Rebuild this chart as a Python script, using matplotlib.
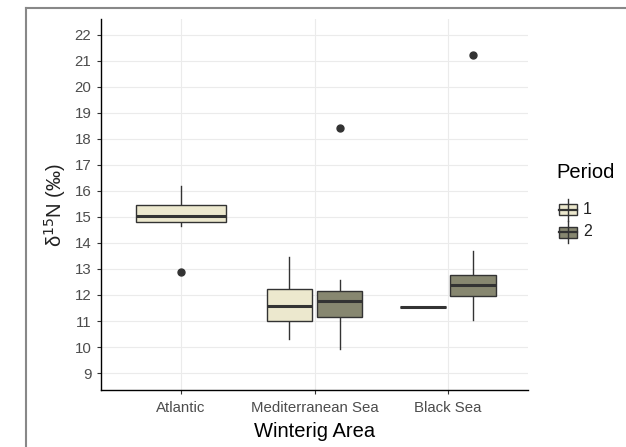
import matplotlib.pyplot as plt
from matplotlib.lines import Line2D
from matplotlib.patches import Rectangle

plt.rcParams['font.family'] = ['Liberation Sans', 'DejaVu Sans']

# Данные: статистики ящиков по областям зимовки и периодам
areas = ['Atlantic', 'Mediterranean Sea', 'Black Sea']
periods = ['1', '2']
box_area = [0, 1, 1, 2, 2]
box_period = [0, 0, 1, 0, 1]
q1 = [14.80, 10.99, 11.14, 11.54, 11.95]
med = [15.04, 11.59, 11.78, 11.54, 12.38]
q3 = [15.46, 12.22, 12.15, 11.54, 12.76]
whislo = [14.65, 10.31, 9.92, 11.54, 11.04]
whishi = [16.19, 13.47, 12.58, 11.54, 13.67]
fliers = [[12.9], [], [18.42], [], [21.23]]
yticks = list(range(9, 23))

colors = ['#ECE8CE', '#878770']
edge = '#333333'

fig = plt.figure(figsize=(6.26, 4.47), dpi=100)
ax = fig.add_axes([0.1613, 0.1275, 0.6822, 0.83])

# позиции с раздвижкой как в ggplot
dodge = 0.1875
stats, pos, widths = [], [], []
for i in range(len(q1)):
    a = box_area[i]
    n_in_area = box_area.count(a)
    if n_in_area == 1:
        p, w = a + 1, 0.67
    else:
        p = a + 1 + (dodge if box_period[i] == 1 else -dodge)
        w = 0.34
    stats.append(dict(q1=q1[i], med=med[i], q3=q3[i], whislo=whislo[i],
                      whishi=whishi[i], fliers=fliers[i]))
    pos.append(p)
    widths.append(w)

bp = ax.bxp(stats, positions=pos, widths=widths, patch_artist=True,
            showcaps=False, manage_ticks=False,
            boxprops=dict(edgecolor=edge, linewidth=1.0),
            medianprops=dict(color=edge, linewidth=2.2),
            whiskerprops=dict(color=edge, linewidth=1.0),
            flierprops=dict(marker='o', markerfacecolor=edge, markeredgecolor=edge,
                            markersize=5))
for patch, per in zip(bp['boxes'], box_period):
    patch.set_facecolor(colors[per])
    patch.set_zorder(3)
for m in bp['medians']:
    m.set_zorder(4)

ax.set_xlim(0.4, 3.6)
ax.set_ylim(8.35, 22.6)
ax.set_xticks([1, 2, 3])
ax.set_xticklabels(areas)
ax.set_yticks(yticks)
ax.grid(True, color='#EBEBEB', linewidth=0.8, zorder=0)
ax.set_axisbelow(True)
for s in ['top', 'right']:
    ax.spines[s].set_visible(False)
for s in ['left', 'bottom']:
    ax.spines[s].set_color('black')
    ax.spines[s].set_linewidth(1.0)
ax.tick_params(colors='#333333', labelcolor='#4D4D4D', labelsize=10.8, length=3)
ax.tick_params(axis='y', pad=4)
ax.tick_params(axis='x', pad=5)
ax.set_xlabel('Winterig Area', fontsize=14.5, color='black', labelpad=5)
ax.set_ylabel('δ$^{15}$N (‰)', fontsize=14.5, color='#222222')
ax.yaxis.set_label_coords(-0.078, 0.5)

# легенда вручную
fig.text(556 / 626, 1 - 172 / 447, 'Period', fontsize=14.5, va='center', ha='left')
for k, yc in enumerate([210, 232]):
    x0, x1 = 559 / 626, 577 / 626
    h = 11 / 447
    yy = 1 - yc / 447
    fig.add_artist(Line2D([(x0 + x1) / 2] * 2, [yy - 11 / 447, yy + 11 / 447],
                          color=edge, linewidth=1.0))
    fig.add_artist(Rectangle((x0, yy - h / 2), x1 - x0, h, facecolor=colors[k],
                             edgecolor=edge, linewidth=1.0))
    fig.add_artist(Line2D([x0, x1], [yy, yy], color=edge, linewidth=1.6))
    fig.text(583 / 626, yy, periods[k], fontsize=11.5, va='center', ha='left',
             color='#222222')

# серая рамка вокруг
fig.add_artist(Line2D([26 / 626, 26 / 626], [0, 1 - 8 / 447], color='#888888', linewidth=1.5))
fig.add_artist(Line2D([26 / 626, 1], [1 - 8 / 447, 1 - 8 / 447], color='#888888', linewidth=1.5))

fig.savefig('out.png', dpi=100)
